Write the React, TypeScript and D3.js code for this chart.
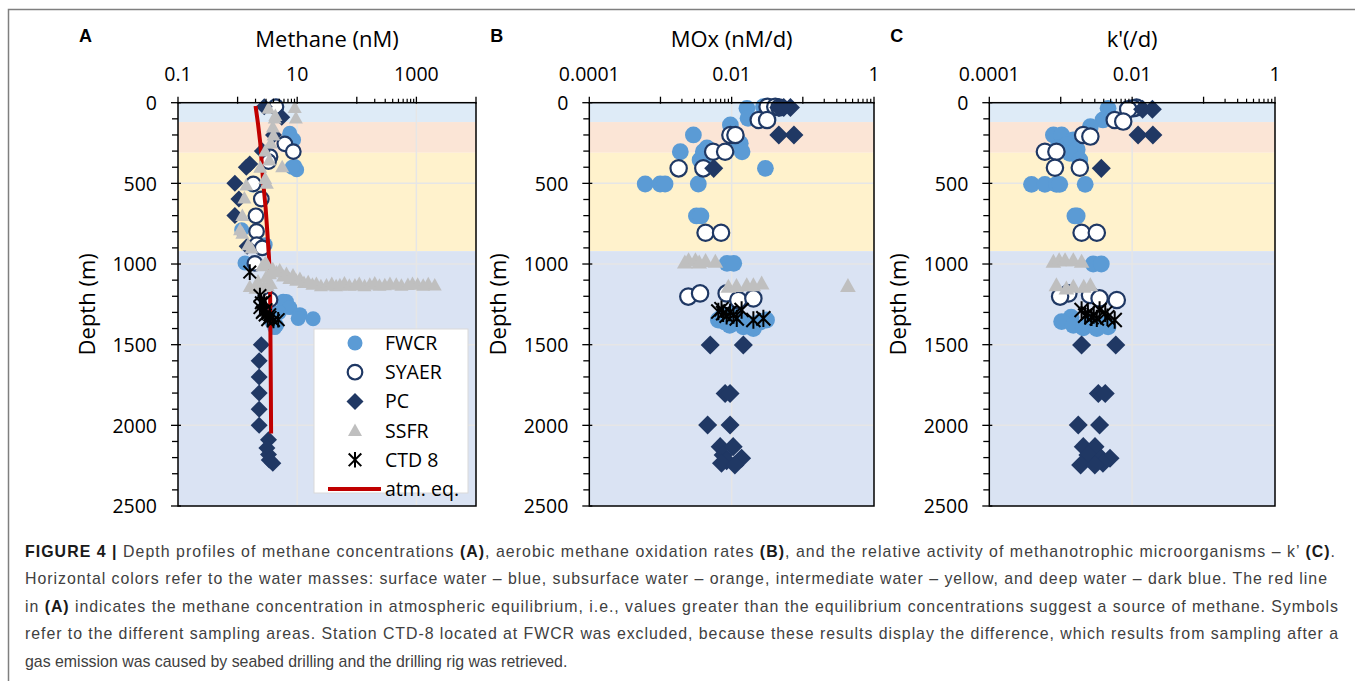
import React, { useEffect, useRef } from "react";
import * as d3 from "d3";

type Pt = [number, number]; // [value, depth m]

// water mass boundaries (m): surface, subsurface, intermediate, deep
const waterMassNames = ["surface", "subsurface", "intermediate", "deep"];
const waterMassTops = [0, 120, 310, 920];
const depthMax = 2500;
const depthTicks = [0, 500, 1000, 1500, 2000, 2500];

const methaneTickLabels = ["0.1", "10", "1000"];
const rateTickLabels = ["0.0001", "0.01", "1"];

// ---- A: methane (nM)
const methaneFWCR: Pt[] = [
  [4.5, 30], [7.5, 190], [7.5, 210], [8.7, 230], [3.4, 355], [3.5, 330], [9.1, 395], [9.8, 416], [8.2, 400],
  [1.8, 510], [1.17, 788], [2.9, 880], [1.33, 994], [2.4, 891],
  [3.2, 1250], [6.6, 1233], [5.8, 1231], [7.5, 1270], [5.0, 1300], [11.1, 1314], [10.4, 1337], [18.5, 1339],
  [3.8, 1360], [4.5, 1380], [4.2, 1394],
];
const methaneSYAER: Pt[] = [
  [4.4, 25], [6.2, 255], [8.6, 303], [3.5, 335], [3.3, 365], [1.83, 503], [2.5, 597], [2.03, 701], [2.08, 798],
  [2.1, 880], [2.6, 900], [1.95, 996], [3.0, 1200], [3.5, 1221],
];
const methanePC: Pt[] = [
  [2.8, 25], [5.5, 90], [4.0, 200], [2.6, 300], [1.6, 380], [1.4, 400], [0.9, 500], [1.05, 597], [0.9, 700], [1.45, 890],
  [2.5, 1500], [2.3, 1600], [2.3, 1700], [2.3, 1800], [2.3, 1900], [2.3, 2000], [3.3, 2090], [3.1, 2140],
  [3.3, 2180], [3.4, 2215], [3.9, 2235],
];
const methaneSSFR: Pt[] = [
  [3.3, 35], [9.1, 30], [9.5, 95], [4.2, 95], [4.3, 80], [3.9, 150], [4.0, 200], [3.6, 250], [2.9, 300], [3.4, 355],
  [2.4, 400], [5.6, 397], [3.1, 500], [2.9, 470], [1.4, 510], [1.3, 590], [1.2, 700], [1.1, 787], [1.2, 810],
  [1.5, 880], [1.7, 900], [2.9, 994], [3.1, 1000], [2.6, 1010],
  [1.6, 1140], [2.0, 1150], [2.4, 1145], [2.8, 1140], [3.2, 1135], [3.6, 1120], [2.2, 1105], [3.0, 1080],
  [3.5, 1060], [3.9, 1030], [4.5, 1050], [5.1, 1037], [5.8, 1075], [6.6, 1058], [7.4, 1090], [8.5, 1068],
  [9.6, 1100], [11.1, 1089], [13, 1115], [15.3, 1110], [18, 1125], [21, 1120], [25, 1135], [31, 1130],
  [38, 1120], [45, 1135], [52, 1128], [62, 1118], [75, 1132], [93, 1130], [110, 1120], [135, 1135],
  [165, 1125], [200, 1118], [240, 1132], [295, 1128], [360, 1120], [460, 1125], [560, 1132], [720, 1127],
  [860, 1120], [1050, 1125], [1300, 1132], [1580, 1122], [2030, 1130],
];
const methaneCTD8: Pt[] = [
  [1.6, 1050], [2.37, 1195], [2.5, 1240], [2.8, 1231], [2.37, 1270], [3.0, 1283], [2.7, 1293], [2.6, 1300],
  [3.46, 1314], [2.9, 1316], [3.5, 1330], [3.2, 1345], [4.8, 1345], [4.0, 1350],
];
const atmEq: Pt[] = [
  [2.0, 20], [2.2, 130], [2.4, 250], [2.55, 380], [2.7, 500], [2.95, 650], [3.15, 800], [3.35, 950],
  [3.5, 1100], [3.55, 1400], [3.6, 1700], [3.65, 2050],
];

// ---- B: MOx (nM/d)
const moxFWCR: Pt[] = [
  [0.028, 25], [0.0164, 35], [0.017, 97], [0.0096, 138], [0.0029, 200], [0.012, 230], [0.0132, 252], [0.0045, 280],
  [0.0019, 304], [0.004, 304], [0.014, 304], [0.0042, 330], [0.0036, 355], [0.0298, 407], [0.00061, 504],
  [0.00099, 504], [0.00116, 504], [0.0034, 504], [0.0032, 702], [0.0037, 702], [0.0086, 996], [0.0107, 996],
  [0.011, 1300], [0.0075, 1320], [0.012, 1330], [0.0065, 1347], [0.0309, 1347], [0.008, 1360], [0.025, 1360],
  [0.017, 1370], [0.0094, 1380], [0.0146, 1390], [0.0202, 1400],
];
const moxSYAER: Pt[] = [
  [0.032, 25], [0.041, 25], [0.047, 30], [0.024, 107], [0.0315, 107], [0.0096, 200], [0.0113, 200],
  [0.0055, 304], [0.0081, 304], [0.0018, 407], [0.004, 407], [0.0043, 806], [0.0071, 806],
  [0.00246, 1202], [0.0036, 1182], [0.0085, 1182], [0.0124, 1223], [0.0202, 1213],
];
const moxPC: Pt[] = [
  [0.046, 30], [0.054, 30], [0.067, 30], [0.046, 200], [0.075, 200], [0.0056, 407], [0.005, 1502], [0.0146, 1502],
  [0.0081, 1802], [0.0095, 1802], [0.0046, 1998], [0.0095, 1998], [0.0069, 2132], [0.0105, 2132],
  [0.0076, 2184], [0.0138, 2204], [0.0085, 2220], [0.0072, 2235], [0.0111, 2246],
];
const moxSSFR: Pt[] = [
  [0.0022, 990], [0.00248, 975], [0.0031, 975], [0.0035, 990], [0.0043, 980], [0.0059, 985],
  [0.009, 1140], [0.0117, 1135], [0.0163, 1130], [0.0202, 1130], [0.0264, 1120], [0.43, 1135],
];
const moxCTD8: Pt[] = [
  [0.0072, 1280], [0.0065, 1295], [0.0095, 1300], [0.0076, 1305], [0.0138, 1285], [0.0106, 1316],
  [0.0085, 1320], [0.0118, 1337], [0.0279, 1337], [0.0202, 1347],
];

// ---- C: k' (/d)
const kFWCR: Pt[] = [
  [0.0046, 35], [0.0039, 107], [0.0026, 149], [0.00079, 200], [0.00103, 200], [0.0015, 231], [0.0012, 260],
  [0.0009, 280], [0.0017, 290], [0.00134, 314], [0.00185, 355], [0.00039, 506], [0.0006, 506], [0.00087, 506],
  [0.00097, 506], [0.0022, 506], [0.00158, 702], [0.0017, 702], [0.00285, 1000], [0.0037, 1000],
  [0.0014, 1330], [0.00103, 1357], [0.0025, 1360], [0.0038, 1370], [0.0015, 1380], [0.0046, 1390],
  [0.00207, 1395], [0.0032, 1400],
];
const kSYAER: Pt[] = [
  [0.0115, 30], [0.0103, 35], [0.0088, 40], [0.0057, 107], [0.0075, 117], [0.00206, 200], [0.0026, 210],
  [0.0006, 304], [0.00087, 304], [0.00083, 403], [0.00185, 403], [0.00196, 806], [0.0032, 806],
  [0.00128, 1182], [0.00257, 1192], [0.00098, 1202], [0.0035, 1213], [0.0061, 1223],
];
const kPC: Pt[] = [
  [0.014, 41], [0.0192, 41], [0.0121, 200], [0.0195, 200], [0.0037, 407], [0.00196, 1502], [0.0059, 1502],
  [0.00336, 1802], [0.0042, 1802], [0.00176, 1998], [0.0035, 1998], [0.00207, 2132], [0.00302, 2132],
  [0.0024, 2184], [0.0037, 2204], [0.0049, 2204], [0.0039, 2235], [0.0019, 2246], [0.003, 2246],
];
const kSSFR: Pt[] = [
  [0.00079, 985], [0.00095, 975], [0.00115, 975], [0.0015, 975], [0.00196, 985],
  [0.00087, 1130], [0.0012, 1150], [0.0015, 1140], [0.0021, 1140], [0.0026, 1130],
];
const kCTD8: Pt[] = [
  [0.00196, 1285], [0.0035, 1285], [0.0024, 1305], [0.0042, 1305], [0.0029, 1316], [0.0022, 1320],
  [0.0027, 1330], [0.0045, 1330], [0.0032, 1337], [0.0057, 1347],
];

const legendNames = ["FWCR", "SYAER", "PC", "SSFR", "CTD 8", "atm. eq."];

const captionLines = [
  [["FIGURE 4 | ", true], ["Depth profiles of methane concentrations ", false], ["(A)", true], [", aerobic methane oxidation rates ", false], ["(B)", true], [", and the relative activity of methanotrophic microorganisms \u2013 k\u2019 ", false], ["(C)", true], [".", false]],
  [["Horizontal colors refer to the water masses: surface water \u2013 blue, subsurface water \u2013 orange, intermediate water \u2013 yellow, and deep water \u2013 dark blue. The red line", false]],
  [["in ", false], ["(A)", true], [" indicates the methane concentration in atmospheric equilibrium, i.e., values greater than the equilibrium concentrations suggest a source of methane. Symbols", false]],
  [["refer to the different sampling areas. Station CTD-8 located at FWCR was excluded, because these results display the difference, which results from sampling after a", false]],
  [["gas emission was caused by seabed drilling and the drilling rig was retrieved.", false]],
] as [string, boolean][][];
const captionWidths = [1310, 1302, 1313, 1313, 0];

const massColors = ["#deebf7", "#fbe5d6", "#fff2cc", "#dae3f3"];
const FONT = "'Open Sans', sans-serif";

const panels = [
  { letter: "A", title: "Methane (nM)", domain: [0.1, 10000], labels: methaneTickLabels, left: 178, right: 476,
    series: [methaneFWCR, methaneSYAER, methanePC, methaneSSFR, methaneCTD8], line: atmEq, legend: true, size: 1 },
  { letter: "B", title: "MOx (nM/d)", domain: [0.0001, 1], labels: rateTickLabels, left: 589.3, right: 874,
    series: [moxFWCR, moxSYAER, moxPC, moxSSFR, moxCTD8], line: null, legend: false, size: 1.12 },
  { letter: "C", title: "k'(/d)", domain: [0.0001, 1], labels: rateTickLabels, left: 989.3, right: 1275,
    series: [kFWCR, kSYAER, kPC, kSSFR, kCTD8], line: null, legend: false, size: 1.12 },
];

const TOP = 102.7;
const BOTTOM = 506;

function drawMarker(g: any, kind: number, x: number, y: number, s = 1) {
  if (kind === 0) {
    g.append("circle").attr("cx", x).attr("cy", y).attr("r", 7.5 * s).attr("fill", "#5b9bd5");
  } else if (kind === 1) {
    g.append("circle").attr("cx", x).attr("cy", y).attr("r", 7.3 * s).attr("fill", "#ffffff")
      .attr("stroke", "#1f3864").attr("stroke-width", 2.2);
  } else if (kind === 2) {
    const h = 8.5 * s;
    g.append("path").attr("d", `M${x},${y - h}L${x + h},${y}L${x},${y + h}L${x - h},${y}Z`).attr("fill", "#203864");
  } else if (kind === 3) {
    g.append("path").attr("d", `M${x},${y - 7 * s}L${x + 7 * s},${y + 5.5 * s}L${x - 7 * s},${y + 5.5 * s}Z`).attr("fill", "#bfbfbf");
  } else {
    const a = 6.3 * s;
    const v = 7.8 * s;
    g.append("path")
      .attr("d", `M${x - a},${y - a}L${x + a},${y + a}M${x - a},${y + a}L${x + a},${y - a}M${x},${y - v}L${x},${y + v}`)
      .attr("stroke", "#000").attr("stroke-width", 2).attr("fill", "none");
  }
}

export default function App() {
  const ref = useRef<SVGSVGElement>(null);

  useEffect(() => {
    const svg = d3.select(ref.current);
    svg.selectAll("*").remove();

    svg.append("rect").attr("width", 1355).attr("height", 681).attr("fill", "#fff");
    svg.append("path").attr("d", "M8.5,690V9.5H1360").attr("fill", "none").attr("stroke", "#7f7f7f").attr("stroke-width", 1.5);

    const y = d3.scaleLinear().domain([0, depthMax]).range([TOP, BOTTOM]);

    panels.forEach((p) => {
      const x = d3.scaleLog().domain(p.domain).range([p.left, p.right]);
      const g = svg.append("g");
      const w = p.right - p.left;

      // water masses
      waterMassTops.forEach((t, i) => {
        const b = i < waterMassTops.length - 1 ? waterMassTops[i + 1] : depthMax;
        g.append("rect").attr("class", waterMassNames[i]).attr("x", p.left).attr("y", y(t)).attr("width", w)
          .attr("height", y(b) - y(t)).attr("fill", massColors[i]);
      });

      // grid
      depthTicks.slice(1, -1).forEach((d) => {
        g.append("line").attr("x1", p.left).attr("x2", p.right).attr("y1", y(d)).attr("y2", y(d))
          .attr("stroke", "#e6e6e6").attr("stroke-width", 1.5);
      });
      p.labels.slice(1).forEach((l) => {
        const v = parseFloat(l);
        if (v >= p.domain[1]) return;
        g.append("line").attr("x1", x(v)).attr("x2", x(v)).attr("y1", TOP).attr("y2", BOTTOM)
          .attr("stroke", "#e6e6e6").attr("stroke-width", 1.5);
      });

      // series
      const pts = g.append("g");
      const order = [0, 1, 2, -1, 3, 4];
      order.forEach((k) => {
        if (k === -1) {
          if (p.line) {
            const line = d3.line<Pt>().x((d) => x(d[0])).y((d) => y(d[1]));
            pts.append("path").datum(p.line).attr("d", line).attr("fill", "none")
              .attr("stroke", "#c00000").attr("stroke-width", 4);
          }
          return;
        }
        p.series[k].forEach((d) => drawMarker(pts, k, x(d[0]), y(d[1]), p.size));
      });

      // frame
      g.append("rect").attr("x", p.left).attr("y", TOP).attr("width", w).attr("height", BOTTOM - TOP)
        .attr("fill", "none").attr("stroke", "#000").attr("stroke-width", 1.5);

      // top ticks
      const lo = Math.log10(p.domain[0]);
      const hi = Math.log10(p.domain[1]);
      for (let e = lo; e <= hi + 1e-9; e++) {
        const v = Math.pow(10, e);
        g.append("line").attr("x1", x(v)).attr("x2", x(v)).attr("y1", TOP - 6).attr("y2", TOP + 1)
          .attr("stroke", "#000").attr("stroke-width", 1.3);
      }
      p.labels.slice(1).forEach((l) => {
        const v = parseFloat(l);
        for (let k = 2; k <= 9; k++) {
          const m = (v / 10) * k;
          g.append("line").attr("x1", x(m)).attr("x2", x(m)).attr("y1", TOP - 4).attr("y2", TOP)
            .attr("stroke", "#000").attr("stroke-width", 1.2);
        }
      });
      p.labels.forEach((l) => {
        g.append("text").attr("x", x(parseFloat(l))).attr("y", 80.5).attr("text-anchor", "middle")
          .attr("font-family", FONT).attr("font-size", 19.5).attr("fill", "#000").text(l);
      });

      // left ticks
      for (let d = 0; d <= depthMax; d += 100) {
        const major = d % 500 === 0;
        g.append("line").attr("x1", p.left - (major ? 7 : 6)).attr("x2", p.left + (major ? 3 : 0))
          .attr("y1", y(d)).attr("y2", y(d)).attr("stroke", "#000").attr("stroke-width", 1.3);
      }
      depthTicks.forEach((d) => {
        g.append("text").attr("x", p.left - 21).attr("y", y(d) + 7.3).attr("text-anchor", "end")
          .attr("font-family", FONT).attr("font-size", 19.5).attr("fill", "#000").text(d);
      });

      // titles
      g.append("text").attr("x", (p.left + p.right) / 2).attr("y", 47).attr("text-anchor", "middle")
        .attr("font-family", FONT).attr("font-size", 22).attr("fill", "#000").text(p.title);
      g.append("text").attr("transform", `translate(${p.left - 83},${(TOP + BOTTOM) / 2}) rotate(-90)`)
        .attr("text-anchor", "middle").attr("font-family", FONT).attr("font-size", 22).attr("fill", "#000")
        .text("Depth (m)");
      g.append("text").attr("x", p.left - 99).attr("y", 42).attr("font-family", "'Liberation Sans', Arial, sans-serif")
        .attr("font-weight", "bold").attr("font-size", 18).attr("fill", "#000").text(p.letter);

      // legend
      if (p.legend) {
        const lg = g.append("g");
        lg.append("rect").attr("x", 314).attr("y", 329).attr("width", 154).attr("height", 164)
          .attr("fill", "#fff").attr("stroke", "#d9d9d9").attr("stroke-width", 1);
        legendNames.forEach((n, i) => {
          const cy = 343 + i * 29.2;
          if (i < 5) drawMarker(lg, i, 355, cy);
          else lg.append("line").attr("x1", 328).attr("x2", 381).attr("y1", cy).attr("y2", cy)
            .attr("stroke", "#c00000").attr("stroke-width", 4);
          lg.append("text").attr("x", 385).attr("y", cy + 7).attr("font-family", FONT).attr("font-size", 19.5)
            .attr("fill", "#000").text(n);
        });
      }
    });

    // caption
    captionLines.forEach((parts, i) => {
      const t = svg.append("text").attr("x", 25).attr("y", 557 + i * 27.4)
        .attr("font-family", "'Liberation Sans', Arial, sans-serif").attr("font-size", 15.9).attr("fill", "#404040");
      if (captionWidths[i] > 0) t.attr("textLength", captionWidths[i]).attr("lengthAdjust", "spacing");
      parts.forEach(([s, b]) => {
        t.append("tspan").attr("font-weight", b ? "bold" : "normal").attr("fill", b ? "#1a1a1a" : "#404040").text(s);
      });
    });
  }, []);

  return (
    <svg ref={ref} width={1355} height={681} style={{ position: "absolute", left: 0, top: 0, display: "block" }} />
  );
}
